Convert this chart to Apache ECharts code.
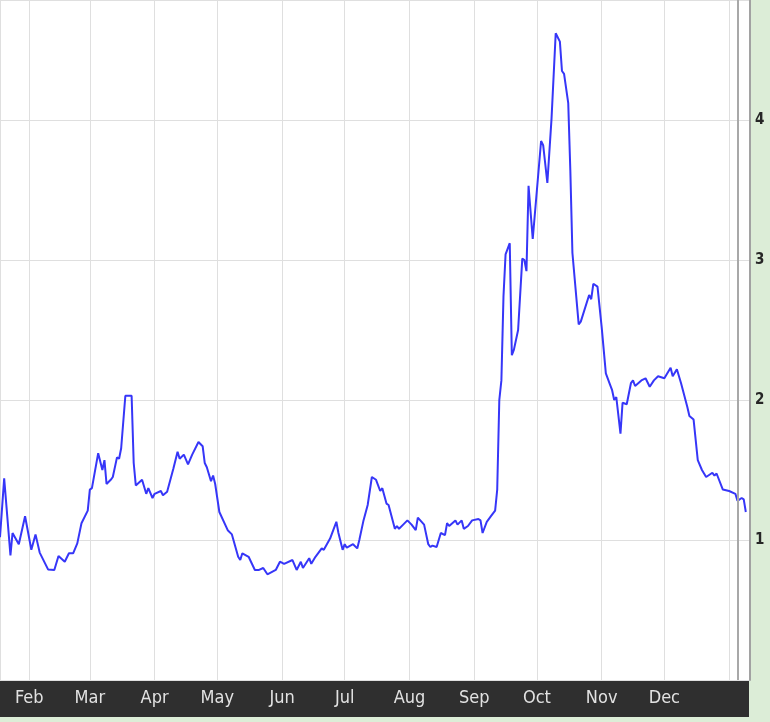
<!DOCTYPE html>
<html>
<head>
<meta charset="utf-8">
<title>Chart</title>
<script src="https://cdn.jsdelivr.net/npm/echarts@6/dist/echarts.min.js"></script>
<style>
    html, body { margin: 0; padding: 0; background: #dcedd7; }
    #chart { width: 770px; height: 722px; }
</style>
</head>
<body>
<div id="chart"></div>
<script>
const monthNames = ['Jan', 'Feb', 'Mar', 'Apr', 'May', 'Jun', 'Jul', 'Aug', 'Sep', 'Oct', 'Nov', 'Dec']
const yTicks = [1, 2, 3, 4]

const dates = [
    '2008-01-18', '2008-01-20', '2008-01-23', '2008-01-24', '2008-01-27', '2008-01-30',
    '2008-02-02', '2008-02-04', '2008-02-06', '2008-02-10', '2008-02-13', '2008-02-15',
    '2008-02-18', '2008-02-20', '2008-02-22', '2008-02-24', '2008-02-26', '2008-02-29',
    '2008-03-01', '2008-03-02', '2008-03-05', '2008-03-07', '2008-03-08', '2008-03-09',
    '2008-03-11', '2008-03-12', '2008-03-14', '2008-03-15', '2008-03-16', '2008-03-18',
    '2008-03-21', '2008-03-22', '2008-03-23', '2008-03-26', '2008-03-28', '2008-03-29',
    '2008-03-31', '2008-04-01', '2008-04-04', '2008-04-05', '2008-04-07', '2008-04-10',
    '2008-04-12', '2008-04-13', '2008-04-15', '2008-04-17', '2008-04-19', '2008-04-22',
    '2008-04-24', '2008-04-25', '2008-04-26', '2008-04-28', '2008-04-29', '2008-04-30',
    '2008-05-02', '2008-05-06', '2008-05-08', '2008-05-11', '2008-05-12', '2008-05-13',
    '2008-05-16', '2008-05-19', '2008-05-21', '2008-05-23', '2008-05-25', '2008-05-29',
    '2008-05-31', '2008-06-02', '2008-06-06', '2008-06-08', '2008-06-10', '2008-06-11',
    '2008-06-14', '2008-06-15', '2008-06-17', '2008-06-20', '2008-06-21', '2008-06-24',
    '2008-06-27', '2008-06-28', '2008-06-30', '2008-07-01', '2008-07-02', '2008-07-05',
    '2008-07-07', '2008-07-08', '2008-07-10', '2008-07-12', '2008-07-14', '2008-07-16',
    '2008-07-18', '2008-07-19', '2008-07-21', '2008-07-22', '2008-07-25', '2008-07-26',
    '2008-07-27', '2008-07-29', '2008-07-31', '2008-08-02', '2008-08-04', '2008-08-05',
    '2008-08-08', '2008-08-10', '2008-08-11', '2008-08-12', '2008-08-14', '2008-08-15',
    '2008-08-16', '2008-08-18', '2008-08-19', '2008-08-20', '2008-08-23', '2008-08-24',
    '2008-08-26', '2008-08-27', '2008-08-29', '2008-08-31', '2008-09-03', '2008-09-04',
    '2008-09-05', '2008-09-07', '2008-09-09', '2008-09-11', '2008-09-12', '2008-09-13',
    '2008-09-14', '2008-09-15', '2008-09-16', '2008-09-18', '2008-09-19', '2008-09-20',
    '2008-09-22', '2008-09-24', '2008-09-25', '2008-09-26', '2008-09-27', '2008-09-29',
    '2008-10-03', '2008-10-04', '2008-10-06', '2008-10-08', '2008-10-10', '2008-10-12',
    '2008-10-13', '2008-10-14', '2008-10-16', '2008-10-17', '2008-10-18', '2008-10-21',
    '2008-10-22', '2008-10-26', '2008-10-27', '2008-10-28', '2008-10-30', '2008-11-01',
    '2008-11-03', '2008-11-05', '2008-11-06', '2008-11-07', '2008-11-08', '2008-11-10',
    '2008-11-11', '2008-11-13', '2008-11-15', '2008-11-16', '2008-11-17', '2008-11-20',
    '2008-11-22', '2008-11-24', '2008-11-26', '2008-11-28', '2008-12-01', '2008-12-02',
    '2008-12-04', '2008-12-05', '2008-12-07', '2008-12-09', '2008-12-12', '2008-12-13',
    '2008-12-15', '2008-12-17', '2008-12-19', '2008-12-21', '2008-12-24', '2008-12-25',
    '2008-12-26', '2008-12-29', '2009-01-01', '2009-01-04', '2009-01-05', '2009-01-07',
    '2009-01-08', '2009-01-09'
]

const values = [
    1.02, 1.44, 0.89, 1.05, 0.97, 1.17,
    0.93, 1.04, 0.91, 0.79, 0.786, 0.886,
    0.845, 0.905, 0.905, 0.976, 1.12, 1.21,
    1.36, 1.37, 1.62, 1.50, 1.57, 1.40,
    1.43, 1.45, 1.59, 1.58, 1.655, 2.03,
    2.03, 1.55, 1.39, 1.43, 1.33, 1.37,
    1.30, 1.33, 1.35, 1.32, 1.345, 1.51,
    1.63, 1.58, 1.61, 1.54, 1.61, 1.70,
    1.67, 1.55, 1.52, 1.42, 1.46, 1.40,
    1.20, 1.07, 1.04, 0.88, 0.857, 0.905,
    0.88, 0.786, 0.786, 0.80, 0.755, 0.786,
    0.845, 0.83, 0.857, 0.786, 0.845, 0.80,
    0.87, 0.83, 0.88, 0.94, 0.93, 1.01,
    1.13, 1.05, 0.93, 0.97, 0.945, 0.97,
    0.94, 1.00, 1.14, 1.25, 1.45, 1.43,
    1.35, 1.37, 1.26, 1.25, 1.08, 1.10,
    1.08, 1.11, 1.14, 1.11, 1.07, 1.16,
    1.11, 0.97, 0.95, 0.96, 0.95, 1.00,
    1.05, 1.035, 1.12, 1.10, 1.14, 1.11,
    1.14, 1.08, 1.10, 1.14, 1.15, 1.14,
    1.05, 1.13, 1.17, 1.21, 1.36, 2.00,
    2.14, 2.74, 3.04, 3.12, 2.32, 2.36,
    2.50, 3.01, 3.00, 2.92, 3.53, 3.15,
    3.85, 3.82, 3.55, 4.01, 4.62, 4.56,
    4.35, 4.33, 4.12, 3.64, 3.05, 2.54,
    2.56, 2.75, 2.72, 2.83, 2.81, 2.52,
    2.19, 2.11, 2.07, 2.00, 2.02, 1.76,
    1.98, 1.97, 2.12, 2.14, 2.10, 2.14,
    2.155, 2.095, 2.14, 2.17, 2.155, 2.18,
    2.23, 2.17, 2.22, 2.12, 1.95, 1.886,
    1.86, 1.57, 1.50, 1.45, 1.48, 1.46,
    1.475, 1.36, 1.35, 1.33, 1.28, 1.30,
    1.29, 1.20
]

const xStart = '2008-01-18'
const xEnd = '2009-01-11'
const markerDate = '2009-01-05'

const DAY = 24 * 3600 * 1000
const narrowFont = '"DejaVu Sans Condensed", "DejaVu Sans", sans-serif'

const chart = echarts.init(document.getElementById('chart'))
chart.setOption({
    animation: false,
    backgroundColor: 'transparent',
    grid: {
        left: 0,
        top: 0,
        right: 20,
        bottom: 42,
        show: true,
        backgroundColor: '#ffffff',
        borderWidth: 0
    },
    // dark band under the month labels
    graphic: [{
        type: 'rect',
        z: 0,
        shape: { x: 0, y: 680, width: 749, height: 37 },
        style: { fill: '#2f2f2f' }
    }],
    xAxis: {
        type: 'time',
        min: xStart,
        max: xEnd,
        minInterval: 28 * DAY,
        maxInterval: 31 * DAY,
        axisLine: { show: false },
        axisTick: { show: false },
        splitLine: { show: true, lineStyle: { color: '#dfdfdf', width: 1 } },
        axisLabel: {
            showMinLabel: false,
            showMaxLabel: false,
            margin: 9,
            color: '#e2e2e2',
            fontFamily: narrowFont,
            fontSize: 18,
            formatter: (val) => {
                const m = new Date(val).getMonth()
                return m === 0 ? '' : monthNames[m]
            }
        }
    },
    yAxis: {
        type: 'value',
        position: 'right',
        min: 0,
        max: 4.857,
        interval: 1,
        axisLine: { show: true, lineStyle: { color: '#a2a2a2', width: 2 } },
        axisTick: { show: false },
        splitLine: { show: true, lineStyle: { color: '#dfdfdf', width: 1 } },
        axisLabel: {
            margin: 5,
            color: '#262626',
            fontFamily: narrowFont,
            fontSize: 15,
            fontWeight: 'bold',
            formatter: (v) => (yTicks.indexOf(v) >= 0 ? String(v) : '')
        }
    },
    series: [{
        type: 'line',
        data: dates.map((d, i) => [d, values[i]]),
        showSymbol: false,
        symbol: 'none',
        lineStyle: { color: '#3636f8', width: 2 },
        markLine: {
            silent: true,
            symbol: 'none',
            label: { show: false },
            lineStyle: { color: '#a8a8a8', width: 2, type: 'solid' },
            data: [{ xAxis: markerDate }]
        }
    }]
})
</script>
</body>
</html>
